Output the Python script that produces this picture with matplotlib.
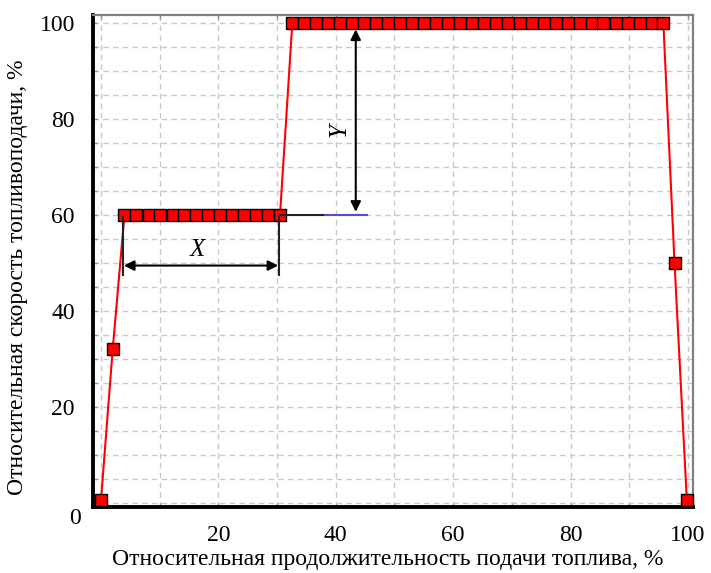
import matplotlib
matplotlib.use("Agg")
import matplotlib.pyplot as plt
from matplotlib.ticker import MultipleLocator

plt.rcParams['font.family'] = ['Liberation Serif', 'DejaVu Serif']

# data
start_x = [0.0, 2.0]
start_y = [0.5, 32.0]
mid_x = [4.0, 6.0, 8.1, 10.1, 12.2, 14.2, 16.2, 18.3, 20.3, 22.4, 24.4, 26.4, 28.5, 30.5]
mid_y = [60.0] * len(mid_x)
top_x = [32.6, 34.6, 36.7, 38.7, 40.8, 42.8, 44.8, 46.9, 48.9, 51.0, 53.0, 55.0, 57.1, 59.1,
         61.2, 63.2, 65.2, 67.3, 69.3, 71.4, 73.4, 75.4, 77.5, 79.5, 81.6, 83.6, 85.6, 87.7,
         89.7, 91.8, 93.8, 95.8]
top_y = [100.0] * len(top_x)
end_x = [97.7, 99.8]
end_y = [50.0, 0.5]

xs = start_x + mid_x + top_x + end_x
ys = start_y + mid_y + top_y + end_y

x_ticks = [20, 40, 60, 80, 100]
y_ticks = [20, 40, 60, 80, 100]

xlabel = "Относительная продолжительность подачи топлива, %"
ylabel = "Относительная скорость топливоподачи, %"

fig = plt.figure(figsize=(7.11, 5.73), dpi=100)
ax = fig.add_axes([93/711, 1-507/573, 600/711, 492/573])

ax.set_xlim(-1.36, 100.85)
ax.set_ylim(-0.9, 101.6)

ax.xaxis.set_major_locator(MultipleLocator(20))
ax.xaxis.set_minor_locator(MultipleLocator(10))
ax.yaxis.set_major_locator(MultipleLocator(20))
ax.yaxis.set_minor_locator(MultipleLocator(5))
ax.set_xticks(x_ticks)
ax.set_yticks(y_ticks)
ax.set_xticklabels([str(v) for v in x_ticks])
ax.set_yticklabels([str(v) for v in y_ticks])

ax.grid(which='both', linestyle=(0, (4, 3)), color='#c8c8c8', lw=1.0)
ax.set_axisbelow(True)

ax.tick_params(which='both', direction='in', length=3, color='#909090', width=1,
               top=True, right=False, labelsize=17, pad=13)

for s in ['left', 'bottom']:
    ax.spines[s].set_color('black')
    ax.spines[s].set_linewidth(2.8)
for s in ['top', 'right']:
    ax.spines[s].set_color('#808080')
    ax.spines[s].set_linewidth(1.6)

# main curve
ax.plot(xs, ys, color='#ff0000', lw=1.5, zorder=3)
ax.plot(xs, ys, linestyle='none', marker='s', ms=8.3, mfc='#ff0000', mec='black', mew=1.0,
        zorder=4, clip_on=False)

# X dimension
ax.plot([3.8, 3.8], [59.6, 47.4], color='#222222', lw=1.5, zorder=5)
ax.plot([30.3, 30.3], [59.6, 47.4], color='#222222', lw=1.5, zorder=5)
ax.annotate('', xy=(3.9, 49.4), xytext=(30.2, 49.4),
            arrowprops=dict(arrowstyle='<|-|>', color='black', lw=1.5,
                            mutation_scale=15, shrinkA=0, shrinkB=0), zorder=5)
ax.text(16.4, 52.6, 'X', fontsize=18, style='italic', ha='center', va='center')

# Y dimension
ax.plot([30.5, 38.2], [60, 60], color='#222222', lw=1.5, zorder=5)
ax.plot([38.2, 45.3], [60, 60], color='#5050c8', lw=1.5, zorder=5)
ax.annotate('', xy=(43.4, 98.6), xytext=(43.4, 60.6),
            arrowprops=dict(arrowstyle='<|-|>', color='black', lw=1.5,
                            mutation_scale=15, shrinkA=0, shrinkB=0), zorder=5)
ax.text(40.6, 77.6, 'Y', fontsize=18, style='italic', ha='center', va='center', rotation=90)

# corner zero
fig.text(75/711, 1-518/573, '0', fontsize=17, ha='center', va='center')

fig.text(388/711, 1-560/573, xlabel, fontsize=17, ha='center', va='center')
fig.text(18/711, 1-277/573, ylabel, fontsize=17, ha='center', va='center', rotation=90)

fig.savefig('out.png', dpi=100)
